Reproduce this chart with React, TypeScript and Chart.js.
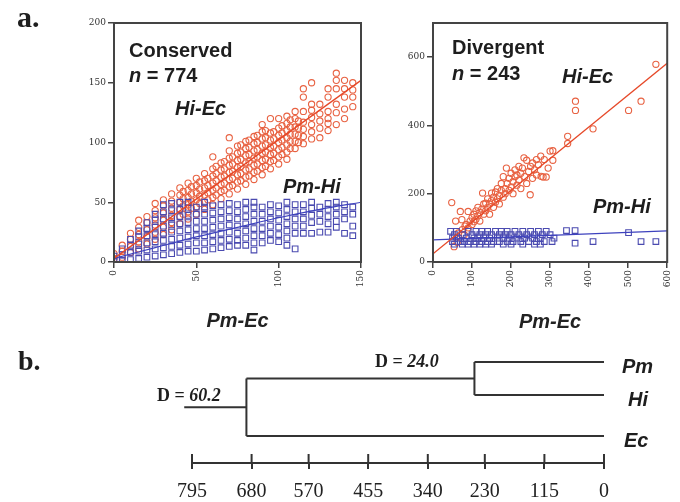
import React, { useEffect, useRef } from "react";
import { Chart, registerables } from "chart.js";

Chart.register(...registerables);

// ---------- Panel a, Conserved (x: Pm-Ec distance) ----------
// columns: [Pm-Ec, list of Hi-Ec values]
const conservedHiEc: [number, number[]][] = [
  [0, [3, 7]],
  [5, [4, 9, 14]],
  [10, [8, 13, 19, 24]],
  [15, [11, 17, 23, 29, 35]],
  [20, [15, 21, 27, 33, 38]],
  [25, [19, 25, 31, 37, 43, 49]],
  [30, [23, 29, 35, 41, 47, 52]],
  [35, [27, 33, 39, 45, 51, 57]],
  [40, [32, 38, 44, 50, 56, 62]],
  [42, [40, 47, 53, 59]],
  [45, [36, 42, 48, 54, 60, 66]],
  [47, [45, 51, 57, 63]],
  [50, [40, 46, 52, 58, 64, 70]],
  [52, [49, 55, 61, 67]],
  [55, [44, 50, 56, 62, 68, 74]],
  [57, [52, 58, 64, 70]],
  [60, [48, 54, 60, 66, 72, 78, 88]],
  [62, [56, 62, 68, 74, 80]],
  [65, [53, 59, 65, 71, 77, 83]],
  [67, [60, 66, 72, 78, 84]],
  [70, [57, 63, 69, 75, 81, 87, 93, 104]],
  [72, [64, 70, 76, 82, 88]],
  [75, [61, 67, 73, 79, 85, 91, 97]],
  [77, [68, 74, 80, 86, 92, 98]],
  [80, [65, 71, 77, 83, 89, 95, 101]],
  [82, [72, 78, 84, 90, 96, 102]],
  [85, [69, 75, 81, 87, 93, 99, 105]],
  [87, [76, 82, 88, 94, 100, 106]],
  [90, [73, 79, 85, 91, 97, 103, 109, 115]],
  [92, [80, 86, 92, 98, 104, 110]],
  [95, [78, 84, 90, 96, 102, 108, 120]],
  [97, [85, 91, 97, 103, 109]],
  [100, [82, 88, 94, 100, 106, 112, 120]],
  [102, [90, 96, 102, 108, 114]],
  [105, [86, 92, 98, 104, 110, 116, 122]],
  [107, [95, 101, 107, 113, 119]],
  [110, [95, 101, 107, 113, 120, 126]],
  [112, [100, 106, 112, 118]],
  [115, [99, 105, 111, 117, 126, 138, 145]],
  [120, [103, 109, 115, 121, 127, 132, 150]],
  [125, [104, 112, 118, 124, 132]],
  [130, [110, 116, 120, 126, 138, 145]],
  [135, [115, 125, 132, 145, 152, 158]],
  [140, [120, 128, 138, 145, 152]],
  [145, [130, 138, 144, 150]],
];

// columns: [Pm-Ec, list of Pm-Hi values]
const conservedPmHi: [number, number[]][] = [
  [0, [1, 5]],
  [5, [1, 6, 11]],
  [10, [2, 8, 14, 19]],
  [15, [3, 9, 15, 21, 26]],
  [20, [4, 10, 16, 22, 28, 33]],
  [25, [5, 11, 17, 23, 29, 35, 40]],
  [30, [6, 12, 18, 24, 30, 36, 42, 48]],
  [35, [7, 13, 19, 25, 31, 37, 43, 49]],
  [40, [8, 14, 20, 26, 32, 38, 44, 50]],
  [45, [9, 15, 21, 27, 33, 39, 45, 50]],
  [50, [9, 16, 22, 28, 34, 40, 46]],
  [55, [10, 16, 22, 28, 34, 40, 46, 50]],
  [60, [11, 17, 23, 29, 35, 41, 47]],
  [65, [12, 18, 24, 30, 36, 42, 48]],
  [70, [13, 19, 25, 31, 37, 43, 49]],
  [75, [14, 18, 24, 30, 36, 42, 48]],
  [80, [14, 20, 26, 32, 38, 44, 50]],
  [85, [10, 16, 22, 28, 34, 40, 46, 50]],
  [90, [16, 22, 28, 34, 40, 46]],
  [95, [18, 24, 30, 36, 42, 48]],
  [100, [17, 23, 29, 35, 41, 47]],
  [105, [14, 20, 26, 32, 38, 44, 50]],
  [110, [11, 24, 30, 36, 42, 48]],
  [115, [24, 30, 36, 42, 48]],
  [120, [24, 33, 39, 45, 50]],
  [125, [25, 34, 40, 46]],
  [130, [25, 32, 38, 44, 49]],
  [135, [29, 34, 40, 46, 50]],
  [140, [24, 36, 42, 48]],
  [145, [22, 30, 40, 46]],
];

const conservedHiEcFit: [number, number][] = [[0, 3], [150, 152]];
const conservedPmHiFit: [number, number][] = [
  [0, 3], [25, 12], [50, 21], [75, 29], [100, 37], [125, 44], [150, 50],
];
const conservedXTicks = [0, 50, 100, 150];
const conservedYTicks = [0, 50, 100, 150, 200];

// ---------- Panel a, Divergent ----------
const divergentHiEc: [number, number][] = [
  [48, 174], [70, 148], [58, 120], [74, 124], [90, 148], [54, 45], [60, 70],
  [65, 85], [75, 95], [80, 80], [85, 110], [90, 100], [95, 120], [100, 130],
  [100, 110], [105, 140], [110, 125], [110, 150], [115, 135], [115, 160],
  [120, 145], [120, 120], [125, 155], [127, 202], [130, 140], [130, 170],
  [135, 172], [135, 150], [140, 160], [140, 185], [145, 140], [145, 170],
  [150, 180], [150, 202], [155, 160], [155, 190], [160, 175], [160, 205],
  [165, 185], [165, 215], [170, 170], [170, 195], [175, 210], [175, 230],
  [180, 190], [180, 250], [185, 215], [185, 200], [188, 275], [190, 230],
  [195, 210], [195, 245], [200, 220], [200, 260], [205, 235], [205, 200],
  [210, 250], [210, 270], [215, 225], [215, 255], [220, 240], [220, 280],
  [225, 215], [225, 260], [229, 275], [233, 305], [235, 250], [240, 298],
  [240, 230], [245, 265], [249, 197], [250, 280], [255, 245], [255, 290],
  [260, 270], [265, 300], [265, 255], [270, 285], [277, 251], [276, 310],
  [282, 249], [285, 300], [290, 249], [295, 275], [300, 325], [307, 298],
  [307, 326], [345, 347], [345, 368], [365, 444], [365, 471], [410, 390],
  [501, 444], [533, 471], [571, 579], [62, 58], [82, 105], [105, 118],
];

const divergentPmHi: [number, number][] = [
  [45, 90], [60, 90], [90, 90], [110, 90], [125, 90], [140, 90], [160, 90],
  [175, 90], [190, 90], [210, 90], [230, 90], [250, 90], [270, 90], [290, 90],
  [342, 92], [364, 92],
  [55, 80], [75, 80], [100, 80], [120, 80], [135, 80], [150, 80], [170, 80],
  [185, 80], [200, 80], [220, 80], [240, 80], [260, 80], [280, 80], [300, 80],
  [50, 70], [65, 70], [85, 70], [105, 70], [115, 70], [130, 70], [145, 70],
  [165, 70], [180, 70], [195, 70], [215, 70], [235, 70], [255, 70], [275, 70],
  [310, 70],
  [50, 60], [70, 60], [80, 60], [95, 60], [110, 60], [125, 60], [140, 60],
  [155, 60], [170, 60], [190, 60], [205, 60], [225, 60], [245, 60], [265, 60],
  [285, 60], [305, 60], [410, 60], [533, 60], [571, 60],
  [55, 52], [75, 52], [90, 52], [105, 52], [120, 52], [135, 52], [150, 52],
  [180, 52], [200, 52], [230, 52], [260, 52], [275, 52], [364, 55], [501, 86],
];

const divergentHiEcFit: [number, number][] = [[0, 24], [600, 582]];
const divergentPmHiFit: [number, number][] = [[0, 65], [600, 91]];
const divergentXTicks = [0, 100, 200, 300, 400, 500, 600];
const divergentYTicks = [0, 200, 400, 600];

// ---------- Panel b, tree ----------
const leafNames = ["Pm", "Hi", "Ec"];
const leafRows = [10.1, 6.8, 2.7];
const nodePmHi = 250;
const nodeRoot = 690;
const rootStub = 810;
const treeScaleTicks = [795, 680, 570, 455, 340, 230, 115, 0];
const nodeLabelValues = ["24.0", "60.2"];

const RED = "rgb(232,98,66)";
const RED_LINE = "rgb(230,72,40)";
const BLUE = "rgb(74,74,176)";
const BLUE_LINE = "rgb(62,66,190)";
const AXIS = "#444";
const SANS = '"Liberation Sans", Arial, Helvetica, sans-serif';
const SERIF = '"Liberation Serif", "Times New Roman", serif';

const cols = (c: [number, number[]][]) =>
  c.flatMap(([x, ys]) => ys.map((y) => ({ x, y })));
const pairs = (p: [number, number][]) => p.map(([x, y]) => ({ x, y }));

const framePlugin = {
  id: "frame",
  afterDraw(chart: any) {
    const { ctx, chartArea: a } = chart;
    ctx.save();
    ctx.strokeStyle = AXIS;
    ctx.lineWidth = 2;
    ctx.strokeRect(a.left, a.top, a.right - a.left, a.bottom - a.top);
    ctx.restore();
  },
};

function scatterConfig(opts: {
  hiEc: { x: number; y: number }[];
  pmHi: { x: number; y: number }[];
  hiEcFit: { x: number; y: number }[];
  pmHiFit: { x: number; y: number }[];
  xMax: number;
  yMax: number;
  xTicks: number[];
  yTicks: number[];
  yAxisWidth: number;
  xAxisHeight: number;
  padRight: number;
  padTop: number;
  titlePad: number;
}): any {
  const tickFont = { family: '"DejaVu Serif", serif', size: 9 };
  return {
    type: "scatter",
    data: {
      datasets: [
        {
          data: opts.hiEcFit,
          showLine: true,
          borderColor: RED_LINE,
          borderWidth: 1.4,
          pointRadius: 0,
          order: 0,
        },
        {
          data: opts.pmHiFit,
          showLine: true,
          borderColor: BLUE_LINE,
          borderWidth: 1.2,
          pointRadius: 0,
          tension: 0.3,
          order: 1,
        },
        {
          data: opts.pmHi,
          pointStyle: "rect",
          pointRadius: 4,
          borderColor: BLUE,
          backgroundColor: "rgba(0,0,0,0)",
          borderWidth: 1.1,
          order: 2,
        },
        {
          data: opts.hiEc,
          pointStyle: "circle",
          pointRadius: 3.1,
          borderColor: RED,
          backgroundColor: "rgba(0,0,0,0)",
          borderWidth: 1.1,
          order: 3,
        },
      ],
    },
    options: {
      responsive: false,
      animation: false,
      events: [],
      layout: { padding: { top: opts.padTop, right: opts.padRight, left: 0, bottom: 0 } },
      plugins: { legend: { display: false }, tooltip: { enabled: false } },
      scales: {
        x: {
          type: "linear",
          min: 0,
          max: opts.xMax,
          afterBuildTicks: (s: any) => {
            s.ticks = opts.xTicks.map((v) => ({ value: v }));
          },
          afterFit: (s: any) => {
            s.height = opts.xAxisHeight;
          },
          ticks: {
            font: tickFont,
            color: "#333",
            minRotation: 90,
            maxRotation: 90,
            autoSkip: false,
            padding: 2,
          },
          grid: { drawOnChartArea: false, tickLength: 6, color: AXIS, lineWidth: 1.5 },
          border: { color: AXIS, width: 2 },
          title: {
            display: true,
            text: "Pm-Ec",
            color: "#222",
            font: { family: SANS, size: 20, weight: "bold", style: "italic", lineHeight: 1 },
            padding: { top: 0, bottom: opts.titlePad },
          },
        },
        y: {
          type: "linear",
          min: 0,
          max: opts.yMax,
          afterBuildTicks: (s: any) => {
            s.ticks = opts.yTicks.map((v) => ({ value: v }));
          },
          afterFit: (s: any) => {
            s.width = opts.yAxisWidth;
          },
          ticks: { font: tickFont, color: "#333", padding: 2, autoSkip: false },
          grid: { drawOnChartArea: false, tickLength: 6, color: AXIS, lineWidth: 1.5 },
          border: { color: AXIS, width: 2 },
        },
      },
    },
    plugins: [framePlugin],
  };
}

const crossTicksPlugin = {
  id: "crossTicks",
  afterDraw(chart: any) {
    const s = chart.scales.x;
    const { ctx } = chart;
    ctx.save();
    ctx.strokeStyle = "#333";
    ctx.lineWidth = 2;
    s.ticks.forEach((t: any) => {
      const px = s.getPixelForValue(t.value);
      ctx.beginPath();
      ctx.moveTo(px, s.top - 9);
      ctx.lineTo(px, s.top);
      ctx.stroke();
    });
    ctx.restore();
  },
};

function treeConfig(): any {
  const [pm, hi, ec] = leafRows;
  const joinPH = (pm + hi) / 2;
  const joinRoot = (joinPH + ec) / 2;
  const segs: [number, number][][] = [
    [[nodePmHi, pm], [0, pm]],
    [[nodePmHi, hi], [0, hi]],
    [[nodePmHi, pm], [nodePmHi, hi]],
    [[nodeRoot, joinPH], [nodePmHi, joinPH]],
    [[nodeRoot, ec], [0, ec]],
    [[nodeRoot, joinPH], [nodeRoot, ec]],
    [[rootStub, joinRoot], [nodeRoot, joinRoot]],
  ];
  return {
    type: "scatter",
    data: {
      datasets: segs.map((s) => ({
        data: pairs(s),
        showLine: true,
        borderColor: "#333",
        borderWidth: 2,
        pointRadius: 0,
        clip: false,
      })),
    },
    options: {
      responsive: false,
      animation: false,
      events: [],
      layout: { padding: { top: 3, right: 76, left: 192, bottom: 0 } },
      plugins: { legend: { display: false }, tooltip: { enabled: false } },
      scales: {
        x: {
          type: "linear",
          reverse: true,
          min: 0,
          max: 795,
          afterBuildTicks: (s: any) => {
            s.ticks = treeScaleTicks.map((v) => ({ value: v }));
          },
          afterFit: (s: any) => {
            s.height = 39;
          },
          ticks: {
            font: { family: SERIF, size: 20 },
            color: "#222",
            maxRotation: 0,
            minRotation: 0,
            autoSkip: false,
            padding: 11,
          },
          grid: { drawOnChartArea: false, tickLength: 6, color: "#333", lineWidth: 2 },
          border: { color: "#333", width: 2 },
        },
        y: { type: "linear", display: false, min: 0, max: 12 },
      },
    },
    plugins: [crossTicksPlugin],
  };
}

const txt = (
  left: number,
  top: number,
  size: number,
  family: string,
  weight = "bold",
  style = "normal"
): React.CSSProperties => ({
  position: "absolute",
  left,
  top,
  fontFamily: family,
  fontSize: size,
  fontWeight: weight as any,
  fontStyle: style,
  lineHeight: 1,
  whiteSpace: "nowrap",
  color: "#1e1e1e",
});

export default function App() {
  const refA = useRef<HTMLCanvasElement>(null);
  const refB = useRef<HTMLCanvasElement>(null);
  const refC = useRef<HTMLCanvasElement>(null);

  useEffect(() => {
    const a = new Chart(
      refA.current!,
      scatterConfig({
        hiEc: cols(conservedHiEc),
        pmHi: cols(conservedPmHi),
        hiEcFit: pairs(conservedHiEcFit),
        pmHiFit: pairs(conservedPmHiFit),
        xMax: 150,
        yMax: 200,
        xTicks: conservedXTicks,
        yTicks: conservedYTicks,
        yAxisWidth: 114,
        xAxisHeight: 332 - 262,
        padRight: 385 - 361,
        padTop: 23,
        titlePad: 1,
      })
    );
    const b = new Chart(
      refB.current!,
      scatterConfig({
        hiEc: pairs(divergentHiEc),
        pmHi: pairs(divergentPmHi),
        hiEcFit: pairs(divergentHiEcFit),
        pmHiFit: pairs(divergentPmHiFit),
        xMax: 600,
        yMax: 700,
        xTicks: divergentXTicks,
        yTicks: divergentYTicks,
        yAxisWidth: 433 - 385,
        xAxisHeight: 336 - 262,
        padRight: 2,
        padTop: 23,
        titlePad: 3.5,
      })
    );
    const c = new Chart(refC.current!, treeConfig());
    return () => {
      a.destroy();
      b.destroy();
      c.destroy();
    };
  }, []);

  const leafTops = [356, 389, 430];
  const leafLefts = [622, 628, 624];

  return (
    <div
      style={{
        position: "relative",
        width: 680,
        height: 502,
        background: "#fff",
        overflow: "hidden",
      }}
    >
      <style>{"body{margin:0;background:#fff}"}</style>
      <canvas
        ref={refA}
        width={385}
        height={332}
        style={{ position: "absolute", left: 0, top: 0, width: 385, height: 332 }}
      />
      <canvas
        ref={refB}
        width={295}
        height={336}
        style={{ position: "absolute", left: 385, top: 0, width: 295, height: 336 }}
      />
      <canvas
        ref={refC}
        width={680}
        height={162}
        style={{ position: "absolute", left: 0, top: 340, width: 680, height: 162 }}
      />

      <div style={txt(17, 2, 30, SERIF)}>a.</div>
      <div style={txt(18, 347, 28, SERIF)}>b.</div>

      <div style={txt(129, 40, 20, SANS)}>Conserved</div>
      <div style={txt(129, 65, 20, SANS)}>
        <i>n</i> = 774
      </div>
      <div style={txt(175, 98, 20, SANS, "bold", "italic")}>Hi-Ec</div>
      <div style={txt(283, 176, 20, SANS, "bold", "italic")}>Pm-Hi</div>

      <div style={txt(452, 37, 20, SANS)}>Divergent</div>
      <div style={txt(452, 63, 20, SANS)}>
        <i>n</i> = 243
      </div>
      <div style={txt(562, 66, 20, SANS, "bold", "italic")}>Hi-Ec</div>
      <div style={txt(593, 196, 20, SANS, "bold", "italic")}>Pm-Hi</div>

      <div style={txt(375, 352, 18, SERIF)}>
        D = <i>{nodeLabelValues[0]}</i>
      </div>
      <div style={txt(157, 386, 18, SERIF)}>
        D = <i>{nodeLabelValues[1]}</i>
      </div>

      {leafNames.map((n, i) => (
        <div key={n} style={txt(leafLefts[i], leafTops[i], 20, SANS, "bold", "italic")}>
          {n}
        </div>
      ))}
    </div>
  );
}
